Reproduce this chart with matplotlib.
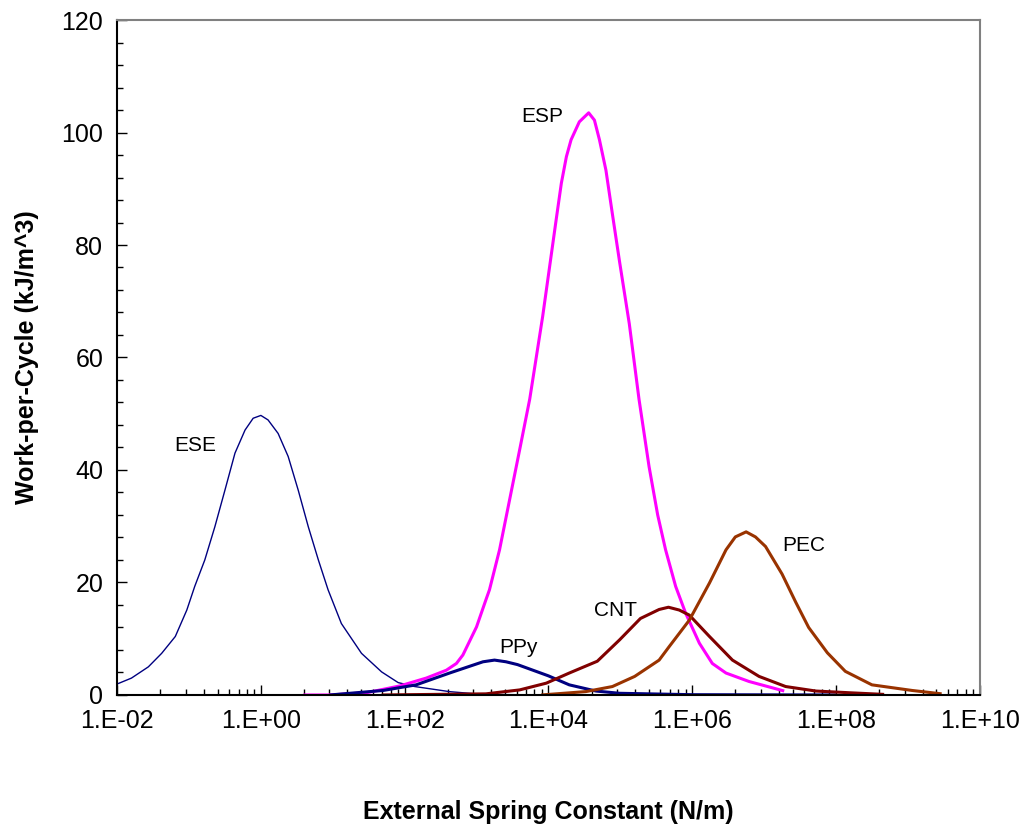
import numpy as np
import matplotlib
matplotlib.use("Agg")
from matplotlib import pyplot as plt
from matplotlib.ticker import FixedLocator, FuncFormatter, MultipleLocator

plt.rcParams['font.family'] = ['Liberation Sans', 'DejaVu Sans']

# curves: log10 of spring constant (N/m) and work (kJ/m^3)
ese_logk = [-1.99, -1.80, -1.565, -1.38, -1.19, -1.03, -0.92, -0.78, -0.64, -0.50, -0.36,
            -0.22, -0.107, 0.0, 0.10, 0.24, 0.38, 0.52, 0.66, 0.80, 0.935, 1.12, 1.40,
            1.68, 1.91, 2.14, 2.62, 3.08, 4.0, 5.0]
ese_work = [2.0, 3.0, 5.0, 7.4, 10.4, 15.1, 19.3, 24.0, 29.9, 36.4, 43.0,
            47.1, 49.2, 49.7, 48.9, 46.5, 42.4, 36.4, 29.9, 24.0, 18.7, 12.7, 7.4,
            4.1, 2.2, 1.5, 0.6, 0.1, 0.0, 0.0]

esp_logk = [0.59, 0.96, 1.47, 1.93, 2.30, 2.58, 2.72, 2.81, 3.0, 3.13, 3.18, 3.32, 3.46, 3.60,
            3.74, 3.92, 4.11, 4.18, 4.25, 4.315, 4.43, 4.56, 4.64, 4.71, 4.80, 4.89, 4.99,
            5.125, 5.26, 5.40, 5.52, 5.63, 5.77, 5.91, 6.10, 6.28, 6.47, 6.79, 7.28]
esp_work = [0.0, 0.0, 0.4, 1.6, 3.0, 4.4, 5.6, 7.1, 12.1, 16.9, 18.7, 25.8, 34.7, 43.6,
            52.6, 67.3, 84.7, 91.0, 95.7, 98.7, 101.9, 103.5, 102.2, 98.7, 93.3, 85.5, 77.0,
            66.0, 52.6, 40.6, 32.0, 25.8, 19.3, 14.5, 9.2, 5.6, 3.9, 2.4, 0.7]

ppy_logk = [0.96, 1.70, 2.16, 2.625, 2.95, 3.09, 3.25, 3.41, 3.57, 4.0, 4.29, 4.66, 4.99,
            6.0, 8.0]
ppy_work = [0.0, 0.8, 1.8, 3.9, 5.3, 5.9, 6.2, 5.9, 5.4, 3.4, 1.8, 0.7, 0.3,
            0.05, 0.0]

cnt_logk = [1.68, 3.13, 3.6, 3.97, 4.29, 4.68, 4.99, 5.28, 5.54, 5.67, 5.82, 5.96, 6.24,
            6.56, 6.93, 7.30, 7.72, 8.18, 8.67]
cnt_work = [0.0, 0.2, 0.9, 2.1, 3.9, 6.0, 9.8, 13.6, 15.2, 15.6, 15.1, 14.2, 10.4,
            6.2, 3.3, 1.5, 0.7, 0.4, 0.1]

pec_logk = [3.9, 4.52, 4.89, 5.2, 5.54, 5.68, 5.96, 6.24, 6.47, 6.60, 6.75, 6.88, 7.02,
            7.25, 7.44, 7.62, 7.88, 8.13, 8.50, 9.06, 9.47]
pec_work = [0.0, 0.6, 1.5, 3.3, 6.2, 8.6, 13.3, 19.9, 25.8, 28.1, 29.0, 28.1, 26.4,
            21.5, 16.5, 12.0, 7.5, 4.2, 1.8, 0.8, 0.2]

# label name, x, y
labels = [("ESE", 0.121, 44.4), ("ESP", 8300, 102.8), ("PPy", 3800, 8.5),
          ("CNT", 87000, 15.0), ("PEC", 3.6e7, 26.5)]

fig = plt.figure(figsize=(10.27, 8.34), dpi=100)
ax = fig.add_axes([0.114, 0.1667, 0.840, 0.8093])

style = dict(solid_joinstyle='round', solid_capstyle='butt')
ax.plot(10 ** np.array(ese_logk), ese_work, color='#000080', lw=1.0, **style)
ax.plot(10 ** np.array(esp_logk), esp_work, color='#FF00FF', lw=2.2, **style)
ax.plot(10 ** np.array(ppy_logk), ppy_work, color='#000080', lw=2.2, **style)
ax.plot(10 ** np.array(cnt_logk), cnt_work, color='#800000', lw=2.2, **style)
ax.plot(10 ** np.array(pec_logk), pec_work, color='#993300', lw=2.2, **style)

for name, x, y in labels:
    ax.text(x, y, name, ha='center', va='center', fontsize=15)

ax.set_xscale('log')
ax.set_xlim(1e-2, 1e10)
ax.set_ylim(0, 120)

major = [10.0 ** e for e in range(-2, 11, 2)]
minor = [10.0 ** e * k * k for e in range(-2, 10, 2) for k in range(2, 10)]
ax.xaxis.set_major_locator(FixedLocator(major))
ax.xaxis.set_minor_locator(FixedLocator(minor))
ax.xaxis.set_major_formatter(FuncFormatter(lambda v, p: "1.E%+03d" % round(np.log10(v))))
ax.yaxis.set_major_locator(MultipleLocator(20))
ax.yaxis.set_minor_locator(MultipleLocator(4))

ax.tick_params(which='both', direction='in', labelsize=18, width=1.0, color='black')
ax.tick_params(which='major', length=7, pad=10)
ax.tick_params(which='minor', length=4)

for side in ['left', 'bottom']:
    ax.spines[side].set_linewidth(1.5)
    ax.spines[side].set_color('black')
for side in ['top', 'right']:
    ax.spines[side].set_linewidth(1.5)
    ax.spines[side].set_color('#808080')

ax.set_xlabel("External Spring Constant (N/m)", fontsize=18, fontweight='bold', labelpad=48)
ax.set_ylabel("Work-per-Cycle (kJ/m^3)", fontsize=18, fontweight='bold', labelpad=16)

fig.savefig("out.png", dpi=100)
